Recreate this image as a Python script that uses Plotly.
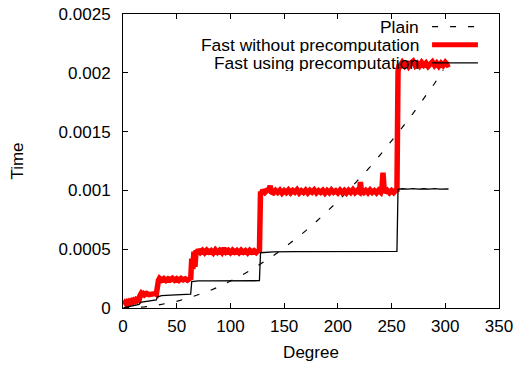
import plotly.graph_objects as go

# ---------------- data ----------------
plain_deg = [0, 10, 20, 30, 40, 50, 60, 70, 80, 90, 100, 110, 120, 130, 140, 150,
             160, 170, 180, 190, 200, 210, 220, 230, 240, 250, 260, 270, 280, 290, 298]
plain_time = [0.0, 0.0000023, 0.000009, 0.00002, 0.000036, 0.000057, 0.000082, 0.000111,
              0.000145, 0.000184, 0.000227, 0.000275, 0.000327, 0.000384, 0.000445,
              0.000511, 0.000581, 0.000656, 0.000736, 0.00082, 0.000908, 0.001001,
              0.001099, 0.0012, 0.001308, 0.001419, 0.001535, 0.001655, 0.00178,
              0.001909, 0.002025]

fast_deg = [1, 2, 3, 4, 5, 6, 7, 8, 9, 10, 11, 12, 13, 14, 15,
            16, 17, 18, 19, 20, 22, 24, 26, 28, 30, 31,
            32, 33, 34, 36, 38, 40, 42, 44, 46, 48, 50, 52, 54, 56, 58, 60, 62, 63,
            64, 65, 66, 67, 68, 69, 70, 72, 74, 76, 78, 80, 82, 84, 86, 88, 90, 92, 94,
            96, 98, 100, 102, 104, 106, 108, 110, 112, 114, 116, 118, 120, 122, 124, 126, 127,
            128, 129, 130, 132, 134, 136, 137, 138, 140, 142, 144, 146, 148, 150, 152, 154,
            156, 158, 160, 162, 164, 166, 168, 170, 172, 174, 176, 178, 180, 182, 184, 186,
            188, 190, 192, 194, 196, 198, 200, 202, 204, 206, 208, 210, 212, 214, 216, 218,
            220, 221, 222, 224, 226, 228, 230, 232, 234, 236, 238, 240, 241, 242, 243, 244,
            246, 248, 250, 252, 254, 255,
            256, 257, 258, 260, 262, 264, 266, 268, 270, 272, 274, 276, 278, 280, 282, 284,
            286, 288, 290, 292, 294, 296, 298, 300, 302, 304]
fast_time = [0.00003, 0.000045, 0.000035, 0.00005, 0.000042, 0.000055, 0.000048, 0.00006,
             0.000052, 0.000065, 0.000058, 0.00007, 0.000062, 0.000075, 0.00007,
             0.00011, 0.000125, 0.000115, 0.000122, 0.000112, 0.000124, 0.000114, 0.000121,
             0.000116, 0.000123, 0.000118,
             0.0002, 0.000235, 0.000252, 0.000236, 0.00025, 0.000234, 0.000248, 0.000238,
             0.000252, 0.000236, 0.000249, 0.000235, 0.000251, 0.000239, 0.000248, 0.000237,
             0.00025, 0.000242,
             0.00042, 0.00033, 0.00048, 0.00035, 0.00049, 0.00047, 0.000497, 0.000473,
             0.00049, 0.00047, 0.000492, 0.000476, 0.000488, 0.000468, 0.000494, 0.000474,
             0.000491, 0.000472, 0.000507, 0.000476, 0.00049, 0.000471, 0.000492, 0.000475,
             0.000489, 0.00047, 0.000491, 0.000474, 0.000488, 0.000469, 0.00049, 0.000475,
             0.000487, 0.000472, 0.000489, 0.000478,
             0.00099, 0.000975, 0.001003, 0.000982, 0.001001, 0.00101, 0.00104, 0.000988,
             0.000979, 0.001, 0.000983, 0.001002, 0.000977, 0.000998, 0.000981, 0.001003,
             0.00098, 0.000999, 0.000984, 0.001005, 0.000978, 0.000997, 0.000982, 0.001002,
             0.000979, 0.001, 0.000985, 0.001004, 0.00098, 0.000998, 0.000983, 0.001001,
             0.000977, 0.000999, 0.000981, 0.001004, 0.000984, 0.000997, 0.000979, 0.001002,
             0.000982, 0.000999, 0.000978, 0.001001, 0.000983, 0.001006, 0.000981, 0.000998,
             0.000985, 0.00107, 0.000995, 0.000981, 0.001, 0.00098, 0.001003, 0.000983,
             0.000998, 0.000979, 0.001001, 0.000984, 0.00101, 0.00115, 0.00102, 0.000982,
             0.001, 0.00098, 0.000999, 0.000982, 0.001002, 0.000988,
             0.00201, 0.00207, 0.002058, 0.002088, 0.002062, 0.002093, 0.002057, 0.002083,
             0.002098, 0.002062, 0.002081, 0.002059, 0.002088, 0.002065, 0.002083, 0.002055,
             0.00208, 0.002093, 0.002063, 0.002083, 0.002057, 0.002081, 0.002062, 0.002088,
             0.002067, 0.002075]

pre_deg = [1, 5, 10, 15, 16, 20, 25, 31, 32, 36, 40, 50, 63,
           64, 70, 80, 90, 100, 110, 120, 127,
           128, 140, 160, 180, 200, 220, 240, 255,
           256, 260, 265, 270, 275, 280, 285, 290, 295, 300, 303]
pre_time = [0.000003, 0.000012, 0.000022, 0.00003, 0.000048, 0.000052, 0.000058, 0.000068,
            0.000095, 0.000105, 0.000108, 0.000112, 0.000118,
            0.000225, 0.00023, 0.000231, 0.00023, 0.000232, 0.000231, 0.000232, 0.000232,
            0.00047, 0.000478, 0.00048, 0.000479, 0.000481, 0.00048, 0.000482, 0.000481,
            0.00101, 0.001014, 0.00101, 0.001015, 0.00101, 0.001014, 0.001011, 0.001015,
            0.00101, 0.001014, 0.001012]

x_ticks = [0, 50, 100, 150, 200, 250, 300, 350]
y_ticks = [0, 0.0005, 0.001, 0.0015, 0.002, 0.0025]
y_tick_text = ["0", "0.0005", "0.001", "0.0015", "0.002", "0.0025"]

series_names = ["Plain", "Fast without precomputation", "Fast using precomputation"]

FONT = "Liberation Sans, Arial, sans-serif"
FS = 17

fig = go.Figure()
fig.add_trace(go.Scatter(x=plain_deg, y=plain_time, mode="lines", name=series_names[0],
                         line=dict(color="black", width=1.2, dash="6px,12px")))
fig.add_trace(go.Scatter(x=fast_deg, y=fast_time, mode="lines", name=series_names[1],
                         line=dict(color="#ff0000", width=5.5)))
fig.add_trace(go.Scatter(x=pre_deg, y=pre_time, mode="lines", name=series_names[2],
                         line=dict(color="black", width=1.3)))

# gnuplot-style key: right-aligned text with sample line to the right
key_y = [0.957, 0.895, 0.834]
key_styles = [dict(color="black", width=1.2, dash="6px,12px"),
              dict(color="#ff0000", width=5),
              dict(color="black", width=1.3)]
annotations = []
shapes = []
for name, ky, st in zip(series_names, key_y, key_styles):
    annotations.append(dict(xref="paper", yref="paper", x=0.789, y=ky, text=name,
                            showarrow=False, xanchor="right", yanchor="middle",
                            height=17, borderpad=0,
                            font=dict(family=FONT, size=17.4, color="black")))
    shapes.append(dict(type="line", xref="paper", yref="paper", x0=0.822, x1=0.944,
                       y0=ky, y1=ky, line=st))

fig.update_layout(
    width=516, height=367,
    margin=dict(l=123, r=17, t=14, b=59),
    paper_bgcolor="white", plot_bgcolor="white",
    showlegend=False,
    font=dict(family=FONT, size=FS, color="black"),
    annotations=annotations,
    shapes=shapes,
)
fig.update_xaxes(range=[0, 350], tickvals=x_ticks, ticks="inside", ticklen=5,
                 tickcolor="black", showline=True, linecolor="black", linewidth=1,
                 mirror="allticks", showgrid=False, zeroline=False, automargin=False,
                 ticklabelstandoff=3,
                 title=dict(text="Degree", standoff=10, font=dict(family=FONT, size=FS)))
fig.update_yaxes(range=[0, 0.0025], tickvals=y_ticks, ticktext=y_tick_text,
                 ticks="inside", ticklen=5, tickcolor="black", showline=True,
                 linecolor="black", linewidth=1, mirror="allticks", showgrid=False,
                 zeroline=False, automargin=False, ticklabelstandoff=8,
                 title=dict(text="Time", standoff=30, font=dict(family=FONT, size=FS)))

# remove the page's default 8px body margin so the figure fills the window exactly
fig.write_html("out.html", config={"displayModeBar": False},
               post_script="document.body.style.margin='0';")
